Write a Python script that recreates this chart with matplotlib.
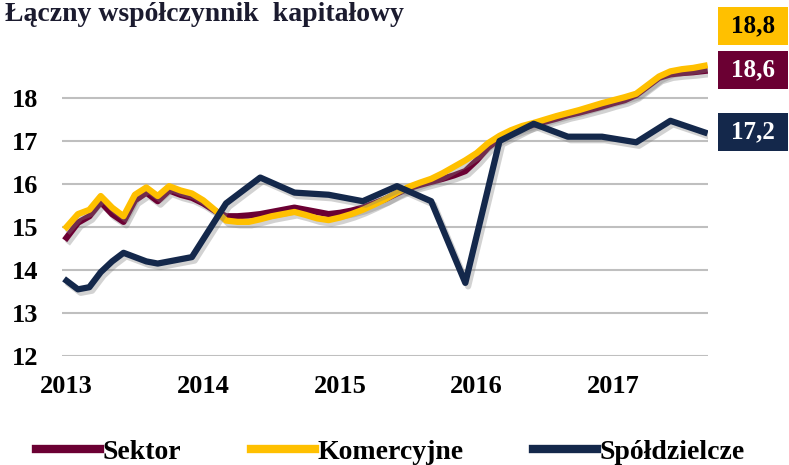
import matplotlib
matplotlib.use("Agg")
import matplotlib.pyplot as plt
import matplotlib.patheffects as pe
from matplotlib.patches import Rectangle

# monthly data, Jan 2013 .. Sep 2017 (month index 0..56)
months = list(range(57))
sektor = [14.75, 15.1, 15.25, 15.58, 15.3, 15.12, 15.62, 15.8, 15.6, 15.85, 15.75, 15.68,
          15.55, 15.38, 15.25, 15.25, 15.27, 15.3, 15.35, 15.4, 15.45, 15.4, 15.35, 15.3,
          15.33, 15.38, 15.45, 15.55, 15.65, 15.78, 15.9, 15.98, 16.05, 16.12, 16.2, 16.3,
          16.55, 16.85, 17.05, 17.2, 17.3, 17.38, 17.45, 17.52, 17.6, 17.66, 17.73, 17.8,
          17.88, 17.95, 18.07, 18.27, 18.47, 18.55, 18.58, 18.6, 18.63]
komercyjne = [15.0, 15.3, 15.4, 15.72, 15.45, 15.25, 15.75, 15.92, 15.72, 15.95, 15.85, 15.78,
              15.62, 15.4, 15.15, 15.12, 15.12, 15.18, 15.25, 15.3, 15.35, 15.28, 15.2, 15.16,
              15.22, 15.3, 15.4, 15.52, 15.65, 15.8, 15.93, 16.03, 16.12, 16.25, 16.4, 16.55,
              16.72, 16.95, 17.12, 17.25, 17.35, 17.42, 17.5, 17.58, 17.65, 17.72, 17.8, 17.88,
              17.95, 18.02, 18.1, 18.3, 18.5, 18.62, 18.67, 18.7, 18.75]
spold_months = [0, 1, 2, 3, 4, 5, 6, 7, 8, 9, 10, 11, 14, 17, 20, 23, 26, 29, 32, 35, 38,
                41, 44, 47, 50, 53, 56]
spoldzielcze = [13.75, 13.55, 13.6, 13.95, 14.2, 14.4, 14.3, 14.2, 14.15, 14.2, 14.25, 14.3,
                15.55, 16.15, 15.8, 15.75, 15.6, 15.95, 15.6, 13.7, 17.0, 17.4, 17.1, 17.1,
                16.97, 17.47, 17.2]
year_ticks = [0, 12, 24, 36, 48]
year_labels = ["2013", "2014", "2015", "2016", "2017"]
end_labels = ["18,8", "18,6", "17,2"]

c_sektor = "#6B0033"
c_kom = "#FFC000"
c_spol = "#14284B"

plt.rcParams['font.family'] = ['Liberation Serif', 'DejaVu Serif']
plt.rcParams['font.weight'] = 'bold'

fig = plt.figure(figsize=(7.89, 4.65), dpi=100)
ax = fig.add_axes([62 / 789, 1 - 356 / 465, (708 - 62) / 789, 301 / 465])

shadow = [pe.SimpleLineShadow(offset=(2, -2.5), shadow_color='gray', alpha=0.35), pe.Normal()]
ax.plot(months, sektor, color=c_sektor, lw=4.5, label="Sektor", path_effects=shadow,
        solid_joinstyle='round')
ax.plot(months, komercyjne, color=c_kom, lw=4.5, label="Komercyjne", path_effects=shadow,
        solid_joinstyle='round')
ax.plot(spold_months, spoldzielcze, color=c_spol, lw=4.5, label="Spółdzielcze",
        path_effects=shadow, solid_joinstyle='round')

ax.set_xlim(-0.4, 56.3)
ax.set_ylim(12, 19)
ax.set_yticks(range(12, 19))
ax.set_xticks(year_ticks)
ax.set_xticklabels(year_labels)
ax.grid(axis='y', color='#BFBFBF', lw=1.5)
ax.set_axisbelow(True)
for s in ax.spines.values():
    s.set_visible(False)
ax.tick_params(length=0, labelsize=19, colors='black')
ax.tick_params(axis='y', pad=17)
ax.tick_params(axis='x', pad=14)

# title at the top edge
fig.text(0.006, 1 - 21 / 465, "Łączny współczynnik  kapitałowy", fontsize=20,
         fontweight='bold', color='#1B1B2F', va='baseline', ha='left')

# value boxes at the right
boxes = [(7, 45, c_kom, 'black'), (51, 89, c_sektor, 'white'), (113, 151, c_spol, 'white')]
for (top, bot, fc, tc), txt in zip(boxes, end_labels):
    fig.patches.append(Rectangle((718 / 789, 1 - bot / 465), 70 / 789, (bot - top) / 465,
                                 transform=fig.transFigure, facecolor=fc, edgecolor='none'))
    fig.text(753 / 789, 1 - (top + bot) / 2 / 465, txt, fontsize=18, fontweight='bold',
             color=tc, ha='center', va='center')

leg = fig.legend(loc='center', bbox_to_anchor=(0.495, 1 - 452 / 465), ncol=3, frameon=False,
                 fontsize=20, handlelength=2.3, handletextpad=0.1, columnspacing=2.5)
for line in leg.get_lines():
    line.set_linewidth(6)
    line.set_path_effects([])

fig.savefig("out.png", dpi=100)
